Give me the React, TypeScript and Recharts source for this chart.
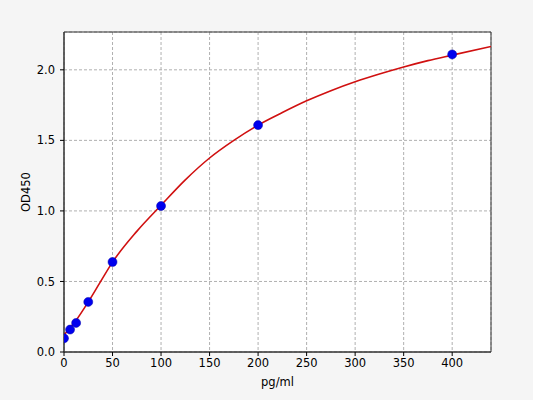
import React from 'react';
import { ComposedChart, Line, Scatter, XAxis, YAxis, CartesianGrid, ReferenceArea } from 'recharts';

// standard points (concentration pg/ml, OD450)
const stdConc = [0, 6.25, 12.5, 25, 50, 100, 200, 400];
const stdOD = [0.097, 0.159, 0.206, 0.355, 0.638, 1.035, 1.608, 2.109];

// fitted curve
const curveConc = [0, 12.5, 25, 37.5, 50, 75, 100, 125, 150, 175, 200, 225, 250, 275, 300, 325, 350, 375, 400, 440];
const curveOD = [0.12, 0.225, 0.355, 0.497, 0.637, 0.855, 1.04, 1.22, 1.375, 1.5, 1.608, 1.697, 1.78, 1.852, 1.915, 1.97, 2.02, 2.065, 2.104, 2.165];

const xTicks = [0, 50, 100, 150, 200, 250, 300, 350, 400];
const yTicks = [0, 0.5, 1.0, 1.5, 2.0];
const xMax = 440;
const yMax = 2.268;

const points = stdConc.map((x, i) => ({ x, y: stdOD[i] }));
const curve = curveConc.map((x, i) => ({ x, y: curveOD[i] }));

const FONT = '"DejaVu Sans", sans-serif';
const tickStyle = { fontSize: 11.5, fill: '#000', fontFamily: FONT };

const Dot = (props: any) => <circle cx={props.cx} cy={props.cy} r={4.5} fill="#0000ee" stroke="#0000aa" strokeWidth={0.5} />;

export default function App() {
  return (
    <div style={{ position: 'absolute', left: 0, top: 0, width: 533, height: 400, background: '#f5f5f5' }}>
      <ComposedChart width={533} height={400} margin={{ top: 32, right: 42, left: 0, bottom: 8 }}>
        <CartesianGrid stroke="#b0b0b0" strokeDasharray="3 2" fill="#ffffff" />
        <XAxis
          dataKey="x"
          type="number"
          domain={[0, xMax]}
          ticks={xTicks}
          allowDataOverflow
          height={40}
          stroke="#333"
          tickSize={4}
          tickMargin={3}
          tick={tickStyle}
          tickLine={{ stroke: '#000' }}
          label={{ value: 'pg/ml', position: 'center', dy: 10, style: { fontSize: 11.5, fill: '#000', fontFamily: FONT } }}
        />
        <YAxis
          dataKey="y"
          type="number"
          domain={[0, yMax]}
          ticks={yTicks}
          allowDataOverflow
          width={64}
          stroke="#333"
          tickSize={4}
          tickMargin={5}
          tick={tickStyle}
          tickLine={{ stroke: '#000' }}
          tickFormatter={(v: number) => v.toFixed(1)}
          label={{ value: 'OD450', angle: -90, position: 'center', dx: -6, style: { fontSize: 11.5, fill: '#000', fontFamily: FONT } }}
        />
        <ReferenceArea x1={0} x2={xMax} y1={0} y2={yMax} fill="none" stroke="#333" strokeWidth={1} ifOverflow="visible" />
        <Scatter data={points} dataKey="y" shape={Dot} isAnimationActive={false} />
        <Line
          data={curve}
          dataKey="y"
          type="monotone"
          stroke="#d01010"
          strokeWidth={1.6}
          dot={false}
          activeDot={false}
          isAnimationActive={false}
        />
      </ComposedChart>
    </div>
  );
}
